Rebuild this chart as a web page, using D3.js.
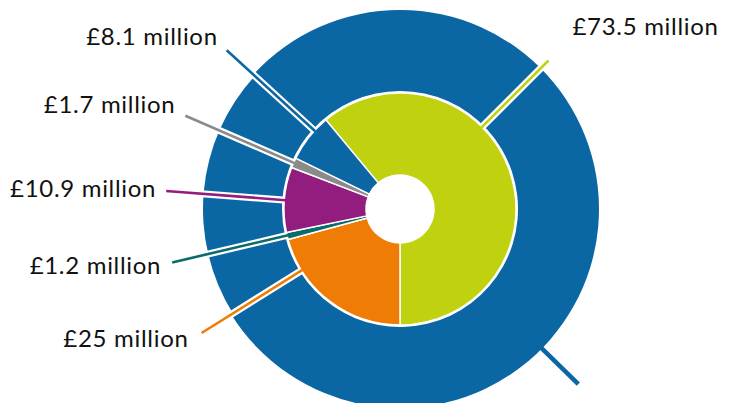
<!DOCTYPE html>
<html>
<head>
<meta charset="utf-8">
<script src="https://cdn.jsdelivr.net/npm/d3@7"></script>
<style>
  html, body { margin: 0; padding: 0; background: #fff; }
  svg { display: block; }
</style>
</head>
<body>
<div id="chart"></div>
<script>
// Data (clockwise from the top-left edge of the green slice)
const labels = ["£73.5 million", "£25 million", "£1.2 million", "£10.9 million", "£1.7 million", "£8.1 million"];
const values = [73.5, 25, 1.2, 10.9, 1.7, 8.1];
const colors = ["#bfd10f", "#ef7d05", "#0a6b6c", "#931d7f", "#8a8a8a", "#0b67a4"];

// Layout
const width = 735;
const height = 403;
const cx = 400, cy = 209;
const holeR = 34, pieR = 116;
const ringIn = 118, ringOut = 199, ringOutSmall = 197;
const blue = "#0b67a4";
// leader line angles (degrees clockwise from 12 o'clock), length and label offsets
const leaderAngle = [45, 238, 256.8, 274.4, 293.5, 312.5];
const leaderLen = [210, 234, 234, 234.5, 234, 235];
const labelOffset = [[24, -26], [-13, 14], [-11, 12], [-10, 6], [-10, -3], [-9, -5]];
const outerLeader = { angle: 134.5, from: 199, to: 250 };

const rad = d => d * Math.PI / 180;
const total = d3.sum(values);
const start = Math.PI - 2 * Math.PI * values[0] / total; // green ends at 6 o'clock

const svg = d3.select("#chart").append("svg")
  .attr("width", width)
  .attr("height", height);

const g = svg.append("g").attr("transform", `translate(${cx},${cy})`);

// outer blue ring: large part and the slightly smaller left part
const ringArc = d3.arc();
g.append("path")
  .attr("fill", blue)
  .attr("d", ringArc({innerRadius: ringIn, outerRadius: ringOut,
    startAngle: rad(leaderAngle[5] - 360), endAngle: rad(leaderAngle[1])}));
g.append("path")
  .attr("fill", blue)
  .attr("d", ringArc({innerRadius: ringIn, outerRadius: ringOutSmall,
    startAngle: rad(leaderAngle[1]), endAngle: rad(leaderAngle[5])}));

// inner donut
const pie = d3.pie().sort(null).startAngle(start).endAngle(start + 2 * Math.PI);
const arc = d3.arc().innerRadius(holeR).outerRadius(pieR);
g.selectAll("path.slice")
  .data(pie(values))
  .join("path")
  .attr("class", "slice")
  .attr("d", arc)
  .attr("fill", (d, i) => colors[i])
  .attr("stroke", "#fff")
  .attr("stroke-width", 1.5)
  .attr("stroke-linejoin", "round");

const pt = (a, r) => [r * Math.sin(rad(a)), -r * Math.cos(rad(a))];

// leader lines with white casing cutting through the ring
const leaders = g.append("g");
values.forEach((v, i) => {
  const [x0, y0] = pt(leaderAngle[i], pieR + 1);
  const [x1, y1] = pt(leaderAngle[i], leaderLen[i]);
  leaders.append("line")
    .attr("x1", x0).attr("y1", y0).attr("x2", x1).attr("y2", y1)
    .attr("stroke", "#fff").attr("stroke-width", 7);
});
values.forEach((v, i) => {
  const [x0, y0] = pt(leaderAngle[i], pieR - 1);
  const [x1, y1] = pt(leaderAngle[i], leaderLen[i]);
  leaders.append("line")
    .attr("x1", x0).attr("y1", y0).attr("x2", x1).attr("y2", y1)
    .attr("stroke", colors[i]).attr("stroke-width", 2.6);
});

// leader off the outer ring (its label falls below the picture)
{
  const [x0, y0] = pt(outerLeader.angle, outerLeader.from - 2);
  const [x1, y1] = pt(outerLeader.angle, outerLeader.to);
  g.append("line")
    .attr("x1", x0).attr("y1", y0).attr("x2", x1).attr("y2", y1)
    .attr("stroke", blue).attr("stroke-width", 4.5);
}

// labels
g.append("g")
  .style("font-family", "Lato, 'Open Sans', sans-serif")
  .style("font-size", "24px")
  .style("letter-spacing", "0.7px")
  .attr("fill", "#111")
  .selectAll("text")
  .data(labels)
  .join("text")
  .attr("x", (d, i) => pt(leaderAngle[i], leaderLen[i])[0] + labelOffset[i][0])
  .attr("y", (d, i) => pt(leaderAngle[i], leaderLen[i])[1] + labelOffset[i][1])
  .attr("text-anchor", (d, i) => labelOffset[i][0] > 0 ? "start" : "end")
  .text(d => d);
</script>
</body>
</html>
